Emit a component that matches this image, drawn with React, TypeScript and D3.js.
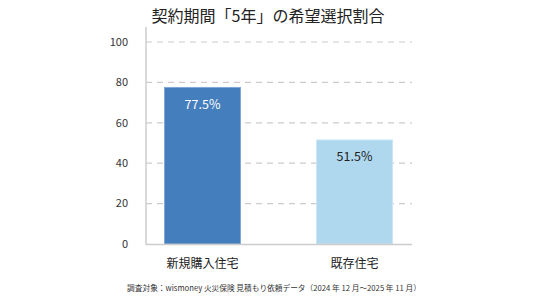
import React from "react";
import * as d3 from "d3";

const categories = ["新規購入住宅", "既存住宅"];
const values = [77.5, 51.5];
const yTicks = [0, 20, 40, 60, 80, 100];
const colors = ["#457ebd", "#afd8ee"];
const labelColors = ["#ffffff", "#222222"];
const title = "契約期間「5年」の希望選択割合";
const note = "調査対象：wismoney 火災保険 見積もり依頼データ（2024 年 12 月～2025 年 11 月）";

const W = 536;
const H = 302;
const FONT = "'Noto Sans CJK JP', 'Noto Sans', sans-serif";

export default function App() {
  const x0 = 146;
  const x1 = 412;
  const y = d3.scaleLinear().domain([0, 100]).range([244, 42]);
  const xb = d3
    .scaleBand<string>()
    .domain(categories)
    .range([126.5, 430.5])
    .paddingInner(0.5)
    .paddingOuter(0.25);

  return (
    <svg width={W} height={H} style={{ position: "absolute", left: 0, top: 0, background: "#fff" }} fontFamily={FONT}>
      <text x={268} y={22} textAnchor="middle" fontSize={16} fill="#222">{title}</text>
      {yTicks.map((t) => (
        <g key={t}>
          {t > 0 && (
            <line x1={x0} x2={x1} y1={y(t)} y2={y(t)} stroke="#cccccc" strokeWidth={1.2} strokeDasharray="6,5" />
          )}
          <text x={128} y={y(t)} dy="0.35em" textAnchor="end" fontSize={11} fill="#333">{t}</text>
        </g>
      ))}
      {categories.map((c, i) => {
        const bx = xb(c)!;
        const bw = xb.bandwidth();
        const top = y(values[i]);
        return (
          <g key={c}>
            <rect x={bx} y={top} width={bw} height={y(0) - top} fill={colors[i]}
              stroke={i === 0 ? "#7fa8d8" : "#c8e6f5"} strokeWidth={1} />
            <text x={bx + bw / 2} y={top + 21.5} textAnchor="middle" fontSize={12.5} fill={labelColors[i]}>
              {values[i].toFixed(1)}%
            </text>
            <text x={bx + bw / 2} y={268} textAnchor="middle" fontSize={12} fill="#222">{c}</text>
          </g>
        );
      })}
      <line x1={x0} x2={x0} y1={27} y2={244.5} stroke="#cccccc" strokeWidth={1.5} />
      <line x1={x0} x2={x1} y1={244.5} y2={244.5} stroke="#cccccc" strokeWidth={1.5} />
      <text x={274} y={291} textAnchor="middle" fontSize={7.7} fill="#333">{note}</text>
    </svg>
  );
}
